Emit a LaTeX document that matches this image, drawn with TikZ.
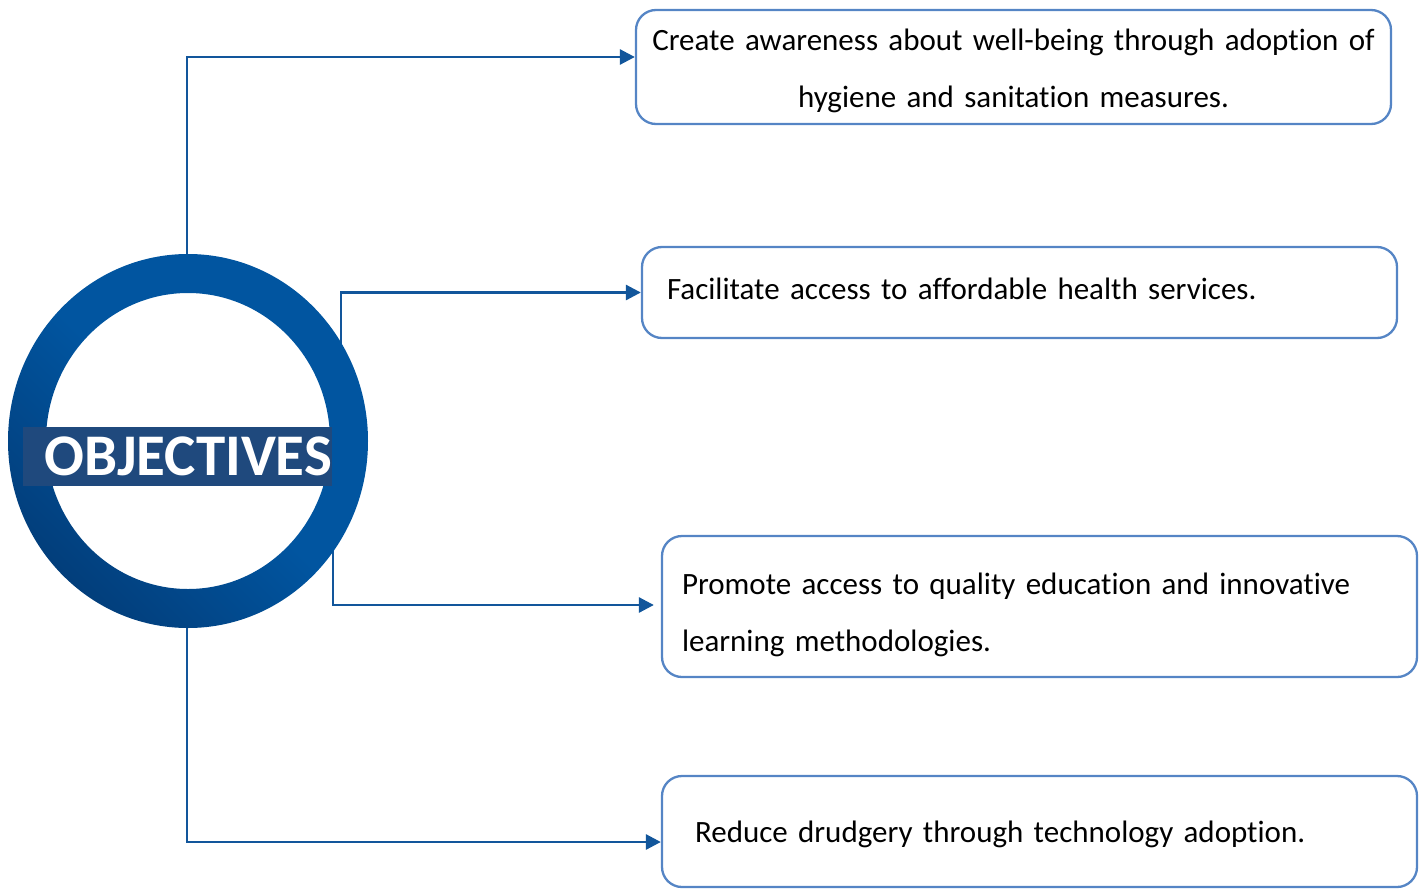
\documentclass[tikz,border=0pt]{standalone}
\usepackage{fontspec}
\setmainfont{Carlito}[Ligatures=NoCommon]
\usetikzlibrary{arrows.meta,positioning,shapes.geometric}

\definecolor{ringblue}{HTML}{0155A0}
\definecolor{ringdark}{HTML}{023E7B}
\definecolor{labelblue}{HTML}{1F497D}
\definecolor{linkblue}{HTML}{12569B}
\definecolor{boxline}{HTML}{5585C5}

\tikzset{
    objbox/.style={draw=boxline, line width=2.3pt, rounded corners=20pt, minimum width=755pt, font=\fontsize{31}{57}\selectfont},
    link/.style={draw=linkblue, line width=2.8pt, -{Triangle[length=15pt, width=15pt]}},
}

\begin{document}
\begin{tikzpicture}[x=1pt, y=-1pt]
    \useasboundingbox (0,0) rectangle (1425,889);

    \node[objbox, minimum height=114pt, text width=723pt, inner xsep=16pt, align=center, text height=30pt] (awareness) at (1013.5, 67) {Create awareness about well-being through adoption of\\hygiene and sanitation measures.};
    \node[objbox, minimum height=91pt, text width=705pt, inner xsep=25pt, align=left, text depth=8pt] (health) at (1019.5, 292.5) {Facilitate access to affordable health services.};
    \node[objbox, minimum height=141pt, text width=715pt, inner xsep=20pt, align=left, text height=38pt] (education) at (1039.5, 606.5) {Promote access to quality education and innovative\\learning methodologies.};
    \node[objbox, minimum height=111pt, text width=689pt, inner xsep=33pt, align=left, text depth=0pt] (drudgery) at (1039.5, 831.5) {Reduce drudgery through technology adoption.};

    \node[ellipse, minimum width=360pt, minimum height=374pt, inner sep=0pt] (ring) at (187, 441) {};

    % ring-1
    \draw[link] (ring.north) |- ([yshift=10pt]awareness.west);

    % ring-2
    \draw[link] ([xshift=154pt]ring.center) |- (health.west);

    % ring-3
    \draw[link, shorten >=7pt] ([xshift=146pt]ring.center) |- ([yshift=1.5pt]education.west);

    % ring-4
    \draw[link] (ring.south) |- ([yshift=-10.5pt]drudgery.west);

    \shade[even odd rule, top color=ringblue, bottom color=ringdark, middle color=ringblue, shading angle=-45]
        (188, 441) ellipse [x radius=180, y radius=187]
        (188, 441) ellipse [x radius=142, y radius=148];

    \node[fill=labelblue, text=white, font=\fontsize{59}{59}\bfseries, minimum height=59pt, text height=38pt, text depth=0pt, inner ysep=0pt, text width=309pt, inner xsep=0pt, align=right] (objectives) at (177.5, 456.5) {OBJECTIVES};
\end{tikzpicture}
\end{document}
